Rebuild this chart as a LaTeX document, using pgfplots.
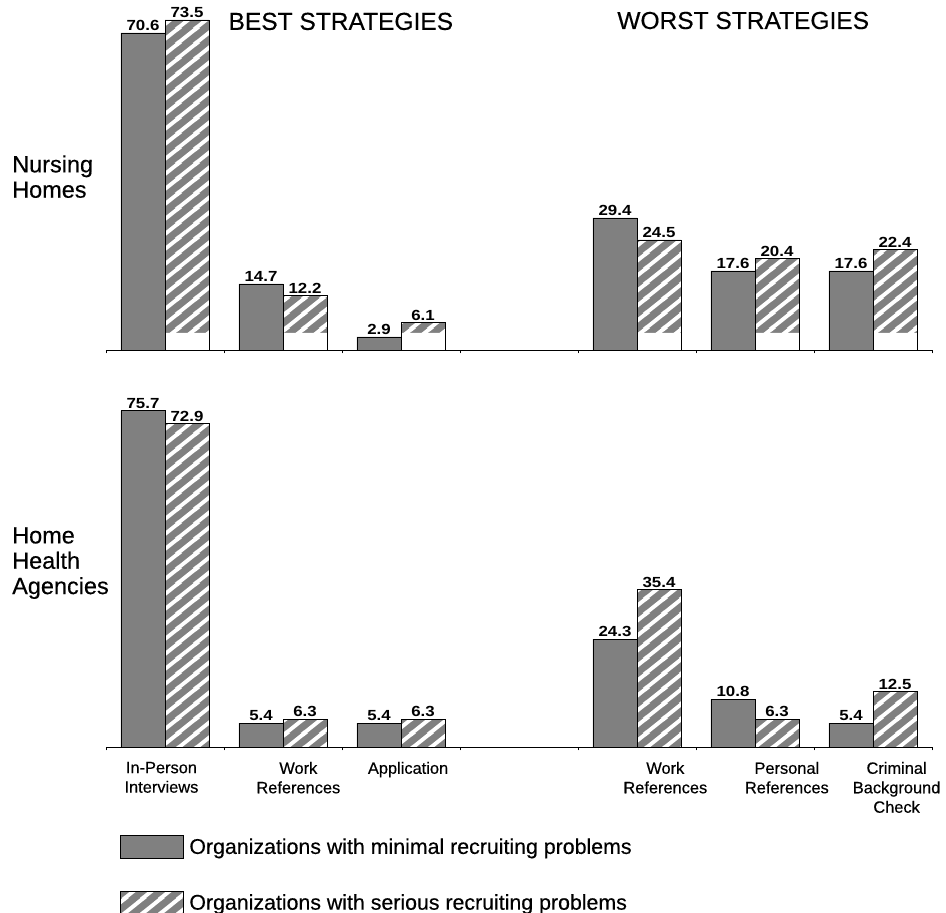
\documentclass[border=0pt]{standalone}
\usepackage{fontspec}
\setmainfont{Liberation Sans}[FakeBold=0.4]
\newfontfamily\lblfont{Liberation Sans}[FakeStretch=1.15]
\usepackage{pgfplots}
\pgfplotsset{compat=1.18}
\usetikzlibrary{patterns.meta}
\definecolor{barg}{RGB}{128,128,128}

% white diagonal stripes (rising about 40 degrees), laid over the gray fill
\tikzdeclarepattern{
  name=wstripes,
  type=uncolored,
  bounding box={(0pt,0pt) and (13.4pt,11.25pt)},
  tile size={(13.4pt,11.25pt)},
  code={
    \pgfsetlinewidth{3pt}
    \pgfpathmoveto{\pgfpoint{-4.47pt}{-3.75pt}}\pgfpathlineto{\pgfpoint{17.87pt}{15pt}}
    \pgfpathmoveto{\pgfpoint{8.93pt}{-3.75pt}}\pgfpathlineto{\pgfpoint{17.87pt}{3.75pt}}
    \pgfpathmoveto{\pgfpoint{-4.47pt}{7.5pt}}\pgfpathlineto{\pgfpoint{4.47pt}{15pt}}
    \pgfusepath{stroke}
  }
}

\pgfplotsset{
  panel/.style={
    ybar, x=88.5pt, xmin=-0.5, xmax=6.5, ymin=0,
    anchor=south west, clip=false,
    axis x line*=bottom, hide y axis,
    axis line style={black, line width=0.7pt},
    xtick={-0.5,0.5,...,6.5}, xticklabels={},
    tick align=outside, major tick length=2.5pt,
    tick style={black, line width=0.6pt},
    bar width=0.373,
    point meta=explicit symbolic,
    every node near coord/.append style={font=\lblfont\bfseries\fontsize{11}{12}\selectfont, inner sep=1.2pt, black},
    legend image code/.code={\draw[#1] (0pt,-8.625pt) rectangle (47.25pt,8.625pt);},
  },
  darkbar/.style={fill=barg, draw=black, line width=0.6pt, bar shift=-0.1865},
  hatchbar/.style={preaction={fill=barg}, pattern=wstripes, pattern color=white, draw=black, line width=0.6pt, bar shift=0.1865},
}

\begin{document}
\begin{tikzpicture}
\useasboundingbox (0,0) rectangle (709.5pt,684.75pt);

% Nursing Homes
\begin{axis}[panel, at={(79.5pt,422.25pt)}, y=3.3675pt, ymax=76]
\addplot[darkbar, nodes near coords] coordinates {
  (0,70.6) [70.6] (1,14.7) [14.7] (2,2.9) [2.9]
  (4,29.4) [29.4] (5,17.6) [17.6] (6,17.6) [17.6]};
\addplot[preaction={fill=barg}, pattern=wstripes, pattern color=white, draw=none, bar shift=0.1865] coordinates {
  (0,73.5) [] (1,12.2) [] (2,6.1) [] (4,24.5) [] (5,20.4) [] (6,22.4) []};
\addplot[fill=white, draw=none, bar shift=0.1865] coordinates {
  (0,3.8) [] (1,3.8) [] (2,3.8) [] (4,3.8) [] (5,3.8) [] (6,3.8) []};
\addplot[fill=none, draw=black, line width=0.6pt, bar shift=0.1865, nodes near coords] coordinates {
  (0,73.5) [73.5] (1,12.2) [12.2] (2,6.1) [6.1]
  (4,24.5) [24.5] (5,20.4) [20.4] (6,22.4) [22.4]};
\node[anchor=base, font=\fontsize{18.4}{22}\selectfont] at (axis cs:1.49,71.3) {BEST STRATEGIES};
\node[anchor=base, font=\fontsize{18.4}{22}\selectfont] at (axis cs:4.90,71.5) {WORST STRATEGIES};
\node[anchor=north west, align=left, inner sep=0pt, font=\fontsize{17.6}{19}\selectfont] at (axis cs:-1.297,43.4) {Nursing\\Homes};
\end{axis}

% Home Health Agencies
\begin{axis}[panel, at={(79.5pt,124.5pt)}, y=3.33pt, ymax=78,
  extra x ticks={-0.03,1.13,2.06,4.24,5.27,6.2},
  extra x tick labels={{In-Person\\Interviews},{Work\\References},{Application},{Work\\References},{Personal\\References},{Criminal\\Background\\Check}},
  extra x tick style={major tick length=0pt,
    xticklabel style={align=center, inner sep=0pt, anchor=north, yshift=-11pt, font=\fontsize{12.3}{14.6}\selectfont}},
  legend style={at={(0.01695,-0.2541)}, anchor=north west, draw=none, fill=none,
    inner sep=0pt, row sep=24pt, column sep=4pt,
    font=\fontsize{16}{19}\selectfont, nodes={inner sep=0pt}},
  legend cell align=left]
\addplot[darkbar, nodes near coords] coordinates {
  (0,75.7) [75.7] (1,5.4) [5.4] (2,5.4) [5.4]
  (4,24.3) [24.3] (5,10.8) [10.8] (6,5.4) [5.4]};
\addlegendentry{Organizations with minimal recruiting problems}
\addplot[hatchbar, nodes near coords] coordinates {
  (0,72.9) [72.9] (1,6.3) [6.3] (2,6.3) [6.3]
  (4,35.4) [35.4] (5,6.3) [6.3] (6,12.5) [12.5]};
\addlegendentry{Organizations with serious recruiting problems}
\node[anchor=north west, align=left, inner sep=0pt, font=\fontsize{17.6}{19}\selectfont] at (axis cs:-1.297,49.55) {Home\\Health\\Agencies};
\end{axis}
\end{tikzpicture}
\end{document}
